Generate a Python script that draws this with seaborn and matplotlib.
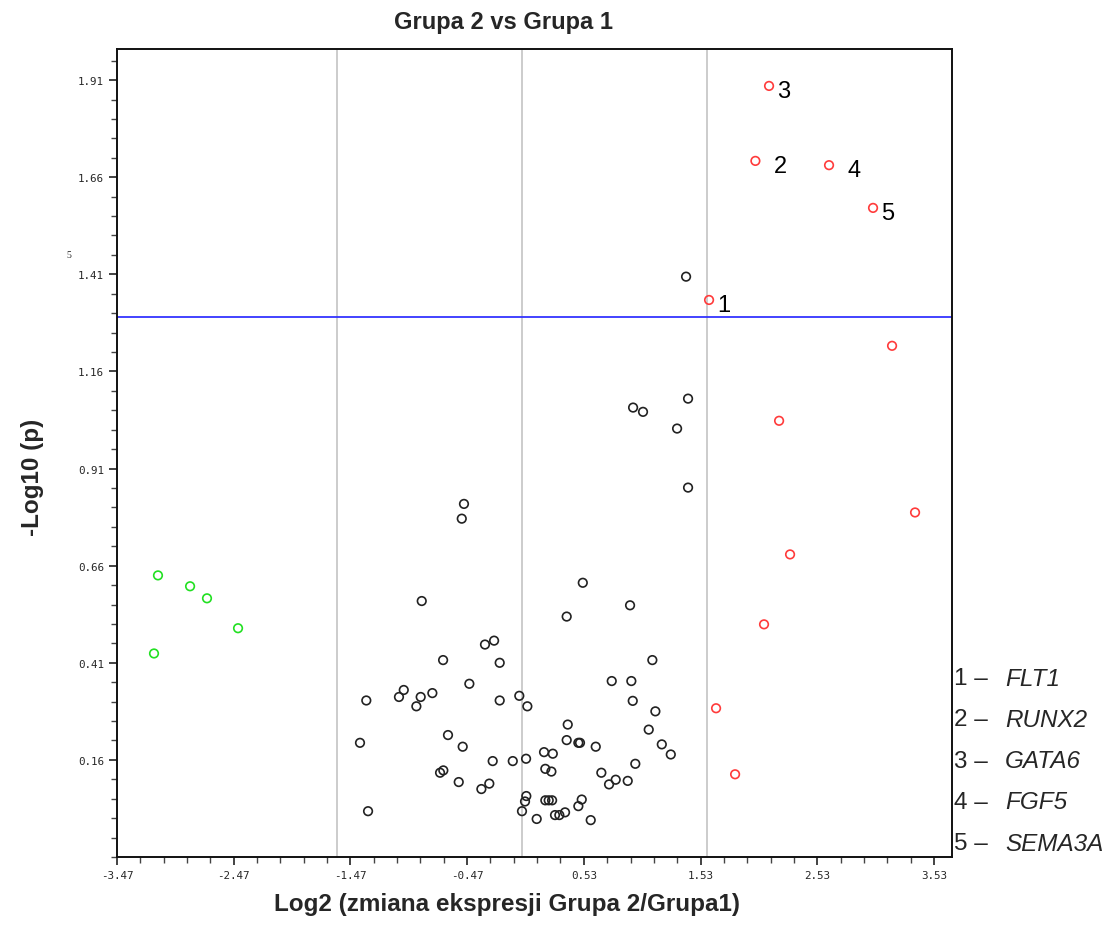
import numpy as np
import pandas as pd
import matplotlib
matplotlib.use("Agg")
import matplotlib.pyplot as plt
from matplotlib.ticker import FixedLocator, FormatStrFormatter
import seaborn as sns

# ==========================================
# Data
# ==========================================
# genes not significant (black)
grey_log2fc = [1.406, 0.952, 1.037, 1.423, 1.329, 1.423, -0.497, -0.516, 0.521, 0.926,
               -0.859, 0.383, -0.317, -0.239, -0.676, -0.191, 1.117, 0.769, 0.937, -0.451,
               -1.013, -1.054, -0.868, -0.768, -0.905, -1.334, -0.191, -0.023, 0.046, 0.949,
               1.143, 0.392, 1.086, -0.634, -1.388, -0.508, 0.383, 0.483, 0.497, 0.632,
               1.198, 1.275, 0.189, 0.264, -0.251, -0.079, 0.035, 0.971, 0.200, 0.252,
               -0.702, -0.674, 0.680, 0.803, 0.746, 0.906, -0.542, -0.280, -0.348, 0.037,
               0.026, 0.200, 0.229, 0.258, 0.512, 0.483, 0.000, -1.319, 0.126, 0.283,
               0.320, 0.369, 0.589]
grey_logp = [1.404, 1.067, 1.056, 1.090, 1.013, 0.861, 0.819, 0.781, 0.616, 0.558,
             0.569, 0.529, 0.457, 0.467, 0.417, 0.410, 0.417, 0.363, 0.363, 0.356,
             0.340, 0.322, 0.322, 0.332, 0.298, 0.313, 0.313, 0.325, 0.298, 0.312,
             0.285, 0.251, 0.238, 0.224, 0.204, 0.194, 0.211, 0.204, 0.204, 0.194,
             0.200, 0.174, 0.180, 0.176, 0.157, 0.157, 0.163, 0.150, 0.137, 0.130,
             0.127, 0.133, 0.127, 0.109, 0.097, 0.106, 0.103, 0.099, 0.085, 0.067,
             0.053, 0.056, 0.056, 0.056, 0.058, 0.041, 0.028, 0.028, 0.008, 0.018,
             0.018, 0.025, 0.005]

# up-regulated (red)
up_log2fc = [1.603, 2.000, 2.117, 2.631, 3.008, 3.171, 2.203, 3.368, 2.297, 2.074, 1.663, 1.826]
up_logp = [1.344, 1.702, 1.895, 1.691, 1.581, 1.226, 1.033, 0.797, 0.689, 0.509, 0.293, 0.123]
up_labels = ["1", "2", "3", "4", "5", "", "", "", "", "", "", ""]

# down-regulated (green)
down_log2fc = [-3.119, -2.844, -2.699, -2.433, -3.153]
down_logp = [0.635, 0.607, 0.576, 0.499, 0.434]

gene_numbers = ["1", "2", "3", "4", "5"]
gene_names = ["FLT1", "RUNX2", "GATA6", "FGF5", "SEMA3A"]

fc_cutoff = np.log2(3)
p_cutoff = -np.log10(0.05)

x_ticks = [-3.47, -2.47, -1.47, -0.47, 0.53, 1.53, 2.53, 3.53]
y_ticks = [0.16, 0.41, 0.66, 0.91, 1.16, 1.41, 1.66, 1.91]

# ==========================================
# Plot
# ==========================================
sns.set_style("ticks")
plt.rcParams['font.family'] = ['Liberation Sans', 'DejaVu Sans']

fig = plt.figure(figsize=(11.06, 9.28), dpi=100)
ax = fig.add_axes([0.1058, 0.0754, 0.7550, 0.8707])

groups = [
    (grey_log2fc, grey_logp, "#222222"),
    (up_log2fc, up_logp, "#ff3b3b"),
    (down_log2fc, down_logp, "#22e022"),
]
for xs, ys, col in groups:
    df = pd.DataFrame({"log2fc": xs, "logp": ys})
    sns.scatterplot(data=df, x="log2fc", y="logp", ax=ax, marker="o", s=38,
                    color=col, facecolor="none", edgecolor=col, linewidth=1.2,
                    zorder=3)

for x0 in (-fc_cutoff, 0, fc_cutoff):
    ax.axvline(x0, color="#c8c8c8", lw=1.3, zorder=1)
ax.axhline(p_cutoff, color="#3434ff", lw=1.3, zorder=2)

for xv, yv, lab in zip(up_log2fc, up_logp, up_labels):
    if lab:
        off = 13 if lab in ("2", "4") else 6
        ax.annotate(lab, (xv, yv), xytext=(off, -8), textcoords="offset points",
                    fontsize=17, color="black")

ax.set_xlim(-3.47, 3.685)
ax.set_ylim(-0.09, 1.99)
ax.xaxis.set_major_locator(FixedLocator(x_ticks))
ax.yaxis.set_major_locator(FixedLocator(y_ticks))
ax.xaxis.set_minor_locator(FixedLocator(np.arange(-3.47, 3.69, 0.2)))
ax.yaxis.set_minor_locator(FixedLocator(np.arange(-0.09, 1.99, 0.05)))
ax.xaxis.set_major_formatter(FormatStrFormatter("%.2f"))
ax.yaxis.set_major_formatter(FormatStrFormatter("%.2f"))
ax.tick_params(which="major", length=6, width=1.2, labelsize=7.8, color="#222222")
ax.tick_params(which="minor", length=4, width=1.0, color="#444444")
for lbl in ax.get_xticklabels() + ax.get_yticklabels():
    lbl.set_family("DejaVu Sans Mono")
for sp in ax.spines.values():
    sp.set_visible(True)
    sp.set_linewidth(1.4)
    sp.set_color("#111111")
ax.set_xlabel("")
ax.set_ylabel("")

fig.text(503 / 1106, 1 - 22 / 928, "Grupa 2 vs Grupa 1", ha="center", va="center",
         fontsize=17, fontweight="bold")
fig.text(507 / 1106, 1 - 905 / 928, "Log2 (zmiana ekspresji Grupa 2/Grupa1)",
         ha="center", va="center", fontsize=17.5, fontweight="bold")
fig.text(33 / 1106, 1 - 477 / 928, "-Log10 (p)", ha="center", va="center",
         rotation=90, fontsize=17.5, fontweight="bold")
fig.text(69 / 1106, 1 - 256 / 928, "5", ha="center", va="center", fontsize=7,
         family="Liberation Serif")

for i, (num, name) in enumerate(zip(gene_numbers, gene_names)):
    ypix = 679 + i * 41.3
    fig.text(954 / 1106, 1 - ypix / 928, num + " \u2013", ha="left", va="center",
             fontsize=17.5)
    fig.text(1005 / 1106, 1 - ypix / 928, name, ha="left", va="center",
             fontsize=17.5, style="italic")

fig.savefig("out.png", dpi=100)
